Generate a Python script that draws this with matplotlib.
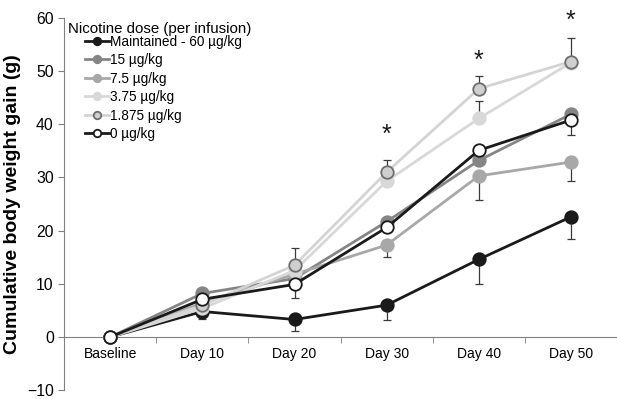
import numpy as np
import matplotlib.pyplot as plt

plt.rcParams['font.family'] = ['Liberation Sans', 'DejaVu Sans']

# -Daten---------------------------------------------------------------------#

days = ['Baseline', 'Day 10', 'Day 20', 'Day 30', 'Day 40', 'Day 50']
labels = ['Maintained - 60 \u00b5g/kg', '15 \u00b5g/kg', '7.5 \u00b5g/kg',
          '3.75 \u00b5g/kg', '1.875 \u00b5g/kg', '0 \u00b5g/kg']

gain_60 = [0, 4.8, 3.3, 6.0, 14.6, 22.6]
gain_15 = [0, 8.2, 11.0, 21.7, 33.2, 41.9]
gain_7_5 = [0, 6.4, 11.8, 17.3, 30.3, 32.9]
gain_3_75 = [0, 5.4, 12.5, 29.3, 41.1, 51.6]
gain_1_875 = [0, 6.0, 13.5, 31.0, 46.7, 51.8]
gain_0 = [0, 7.1, 9.9, 20.6, 35.1, 40.8]

# SEM, nur eine Seite gezeichnet (lo = nach unten, hi = nach oben)
err_lo_60 = [0, 1.4, 2.2, 2.8, 4.7, 4.1]
err_hi_60 = [0, 0, 0, 0, 0, 0]
err_lo_15 = [0, 0, 0, 0, 0, 0]
err_hi_15 = [0, 0, 0, 0, 0, 0]
err_lo_7_5 = [0, 0, 0, 2.3, 4.5, 3.6]
err_hi_7_5 = [0, 0, 0, 0, 0, 0]
err_lo_3_75 = [0, 0, 0, 0, 0, 0]
err_hi_3_75 = [0, 0, 0, 0, 3.2, 0]
err_lo_1_875 = [0, 0, 0, 0, 0, 0]
err_hi_1_875 = [0, 0, 3.3, 2.3, 2.3, 4.5]
err_lo_0 = [0, 0, 2.6, 0, 0, 2.8]
err_hi_0 = [0, 0, 0, 0, 0, 0]

star_days = [3, 4, 5]
star_y = [38.0, 52.0, 59.5]

# -Diagramm------------------------------------------------------------------#

fig = plt.figure(figsize=(6.17, 3.99), dpi=100)
ax = fig.add_axes([0.104, 0.022, 0.896, 0.933])
x = np.arange(len(days))

series = [
    (gain_60, err_lo_60, err_hi_60, '#1a1a1a', '#1a1a1a', '#1a1a1a'),
    (gain_15, err_lo_15, err_hi_15, '#858585', '#858585', '#858585'),
    (gain_7_5, err_lo_7_5, err_hi_7_5, '#a8a8a8', '#a8a8a8', '#a8a8a8'),
    (gain_3_75, err_lo_3_75, err_hi_3_75, '#d8d8d8', '#d8d8d8', '#d8d8d8'),
    (gain_1_875, err_lo_1_875, err_hi_1_875, '#d4d4d4', '#cfcfcf', '#6e6e6e'),
    (gain_0, err_lo_0, err_hi_0, '#1a1a1a', 'white', '#1a1a1a'),
]

for i, (y, lo, hi, lc, fc, ec) in enumerate(series):
    ax.errorbar(x, y, yerr=[lo, hi], fmt='none', ecolor='#3a3a3a',
                elinewidth=0.9, capsize=3, capthick=0.9, zorder=2 + i)
    ax.plot(x, y, color=lc, lw=2, marker='o', markersize=9,
            markerfacecolor=fc, markeredgecolor=ec, markeredgewidth=1.3,
            label=labels[i], zorder=3 + i, clip_on=False)

for d, s in zip(star_days, star_y):
    ax.text(d, s, '*', ha='center', va='center', fontsize=18, color='#1a1a1a')

ax.set_xlim(-0.5, 5.5)
ax.set_ylim(-10, 60)
ax.set_yticks([-10, 0, 10, 20, 30, 40, 50, 60])
ax.set_xticks(x)
ax.set_xticklabels(days, fontsize=11.3)
ax.set_xticks(x[:-1] + 0.5, minor=True)
ax.tick_params(axis='x', which='major', length=0, pad=7)
ax.tick_params(axis='x', which='minor', length=4, direction='out', color='#808080')
ax.tick_params(axis='y', length=4, direction='out', color='#808080', labelsize=11.3)

ax.spines['top'].set_visible(False)
ax.spines['right'].set_visible(False)
ax.spines['bottom'].set_position(('data', 0))
ax.spines['bottom'].set_color('#808080')
ax.spines['left'].set_color('#808080')

ax.set_ylabel('Cumulative body weight gain (g)', fontsize=14, fontweight='bold', labelpad=4)

ax.text(0.007, 0.971, 'Nicotine dose (per infusion)', transform=ax.transAxes,
        ha='left', va='center', fontsize=10.8)
leg = ax.legend(loc='upper left', bbox_to_anchor=(0.038, 0.955), frameon=False,
                fontsize=9.8, handlelength=1.75, handletextpad=0.1,
                labelspacing=0.33, markerscale=0.6, borderpad=0, borderaxespad=0)

fig.savefig('out.png', dpi=100)
